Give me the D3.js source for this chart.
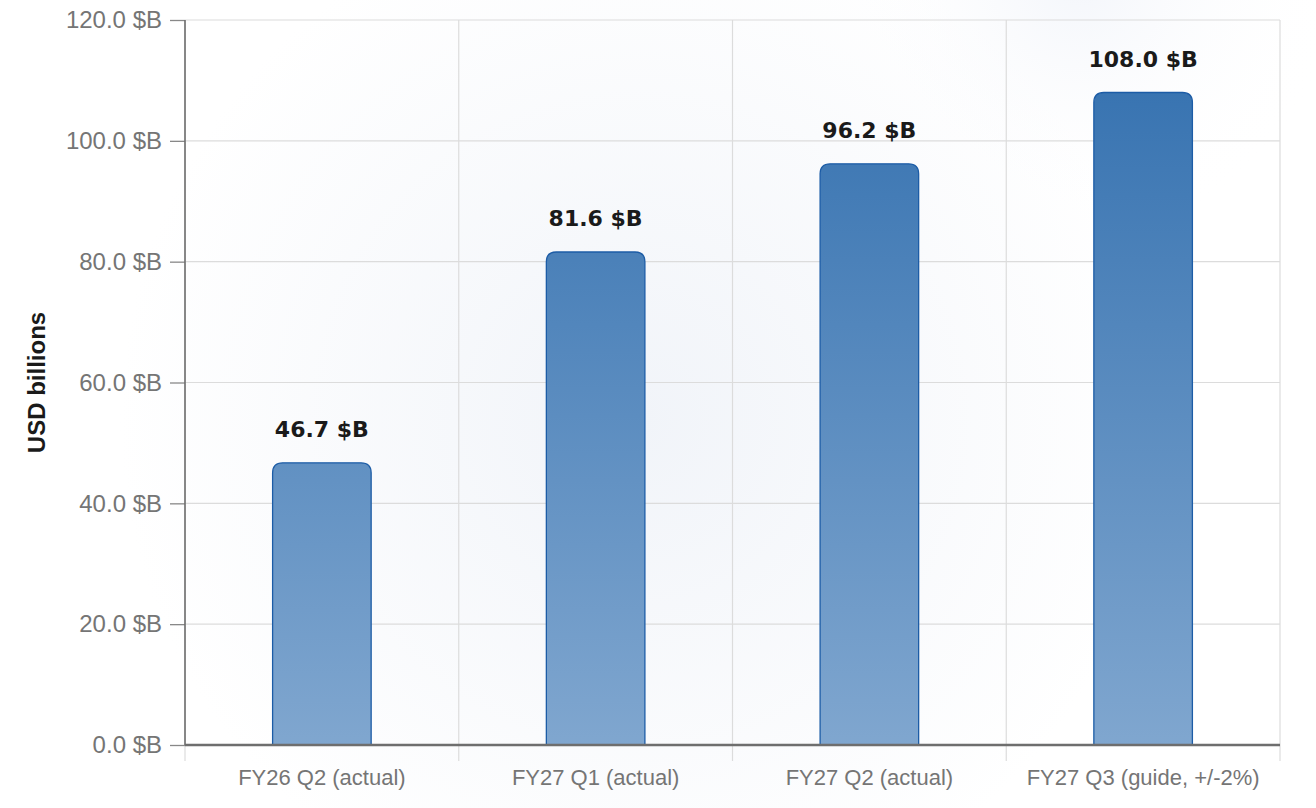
<!DOCTYPE html>
<html>
<head>
<meta charset="utf-8">
<script src="https://cdn.jsdelivr.net/npm/d3@7"></script>
<style>
  html, body { margin: 0; padding: 0; background: #fff; }
  svg { display: block; }
</style>
</head>
<body>
<script>
const categories = ['FY26 Q2 (actual)', 'FY27 Q1 (actual)', 'FY27 Q2 (actual)', 'FY27 Q3 (guide, +/-2%)']
const revenue = [46.7, 81.6, 96.2, 108.0]
const yTicks = [0, 20, 40, 60, 80, 100, 120]

document.addEventListener('DOMContentLoaded', init)

function init() {
  var W = 1316, H = 808
  var margin = {top: 20, right: 36, bottom: 63, left: 185}
    , width = W - margin.left - margin.right
    , height = H - margin.top - margin.bottom

  var svg = d3.select('body').append('svg')
      .attr('width', W)
      .attr('height', H)

  var defs = svg.append('defs')

  var bg = defs.append('radialGradient')
      .attr('id', 'bg')
      .attr('gradientUnits', 'userSpaceOnUse')
      .attr('cx', 640).attr('cy', 420).attr('r', 520)
  bg.append('stop').attr('offset', '0%').attr('stop-color', '#f1f4f9')
  bg.append('stop').attr('offset', '100%').attr('stop-color', '#ffffff')

  var bg2 = defs.append('radialGradient')
      .attr('id', 'bg2')
      .attr('gradientUnits', 'userSpaceOnUse')
      .attr('cx', 1080).attr('cy', -20).attr('r', 260)
  bg2.append('stop').attr('offset', '0%').attr('stop-color', '#f1f4fa').attr('stop-opacity', 0.8)
  bg2.append('stop').attr('offset', '100%').attr('stop-color', '#ffffff').attr('stop-opacity', 0)

  var grad = defs.append('linearGradient')
      .attr('id', 'barFill')
      .attr('gradientUnits', 'userSpaceOnUse')
      .attr('x1', 0).attr('y1', margin.top)
      .attr('x2', 0).attr('y2', margin.top + height)
  grad.append('stop').attr('offset', '0%').attr('stop-color', '#3370af')
  grad.append('stop').attr('offset', '100%').attr('stop-color', '#82a8d0')

  svg.append('rect').attr('width', W).attr('height', H).attr('fill', '#fff')
  svg.append('rect').attr('width', W).attr('height', H).attr('fill', 'url(#bg)')
  svg.append('rect').attr('width', W).attr('height', H).attr('fill', 'url(#bg2)')

  var x = d3.scaleBand()
      .domain(categories)
      .range([0, width])
      .padding(0)

  var y = d3.scaleLinear()
      .domain([0, 120])
      .range([height, 0])

  var main = svg.append('g')
      .attr('transform', 'translate(' + margin.left + ',' + margin.top + ')')

  // horizontal grid
  main.append('g').selectAll('line')
    .data(yTicks)
    .enter().append('line')
    .attr('x1', 0).attr('x2', width)
    .attr('y1', function (d) { return y(d) }).attr('y2', function (d) { return y(d) })
    .attr('stroke', '#dcdcdc')
    .attr('stroke-width', 1.2)

  // vertical grid at band edges, running past the axis
  var edges = categories.map(function (c) { return x(c) }).concat([width])
  main.append('g').selectAll('line')
    .data(edges)
    .enter().append('line')
    .attr('x1', function (d) { return d }).attr('x2', function (d) { return d })
    .attr('y1', 0).attr('y2', height + 16)
    .attr('stroke', '#dcdcdc')
    .attr('stroke-width', 1.2)

  // bars
  var barW = x.bandwidth() * 0.36
  var r = 10
  function barPath(d, i) {
    var cx = x(categories[i]) + x.bandwidth() / 2
    var x0 = cx - barW / 2, x1 = cx + barW / 2
    var y0 = y(d), yb = y(0)
    return 'M' + x0 + ',' + yb +
      'L' + x0 + ',' + (y0 + r) +
      'Q' + x0 + ',' + y0 + ' ' + (x0 + r) + ',' + y0 +
      'L' + (x1 - r) + ',' + y0 +
      'Q' + x1 + ',' + y0 + ' ' + x1 + ',' + (y0 + r) +
      'L' + x1 + ',' + yb + 'Z'
  }

  main.append('g').selectAll('path')
    .data(revenue)
    .enter().append('path')
    .attr('d', barPath)
    .attr('fill', 'url(#barFill)')
    .attr('stroke', '#1c5ca6')
    .attr('stroke-width', 1.3)

  // value labels
  main.append('g').selectAll('text')
    .data(revenue)
    .enter().append('text')
    .attr('x', function (d, i) { return x(categories[i]) + x.bandwidth() / 2 })
    .attr('y', function (d) { return y(d) - 26 })
    .attr('text-anchor', 'middle')
    .attr('font-family', 'DejaVu Sans')
    .attr('font-weight', 'bold')
    .attr('font-size', 22)
    .attr('fill', '#1a1a1a')
    .text(function (d) { return d.toFixed(1) + ' $B' })

  // y axis
  var yAxis = d3.axisLeft(y)
      .tickValues(yTicks)
      .tickSize(15)
      .tickPadding(8)
      .tickFormat(function (d) { return d.toFixed(1) + ' $B' })

  var ya = main.append('g').call(yAxis)
  ya.select('.domain').remove()
  ya.selectAll('line').attr('stroke', '#888').attr('stroke-width', 1.3)
  ya.selectAll('text')
    .attr('font-family', 'Liberation Sans')
    .attr('font-size', 24)
    .attr('fill', '#757575')

  main.append('line')
    .attr('x1', 0).attr('x2', 0)
    .attr('y1', 0).attr('y2', height)
    .attr('stroke', '#6e6e6e')
    .attr('stroke-width', 1.6)

  // x axis
  var xAxis = d3.axisBottom(x).tickSize(0).tickPadding(24)
  var xa = main.append('g')
    .attr('transform', 'translate(0,' + height + ')')
    .call(xAxis)
  xa.select('.domain').remove()
  xa.selectAll('text')
    .attr('font-family', 'Liberation Sans')
    .attr('font-size', 22)
    .attr('fill', '#757575')

  main.append('line')
    .attr('x1', 0).attr('x2', width)
    .attr('y1', height).attr('y2', height)
    .attr('stroke', '#6e6e6e')
    .attr('stroke-width', 2.6)

  // y title
  svg.append('text')
    .attr('transform', 'translate(45,' + (margin.top + height / 2) + ') rotate(-90)')
    .attr('text-anchor', 'middle')
    .attr('font-family', 'Liberation Sans')
    .attr('font-weight', 'bold')
    .attr('font-size', 24)
    .attr('fill', '#1a1a1a')
    .text('USD billions')
}
</script>
</body>
</html>
